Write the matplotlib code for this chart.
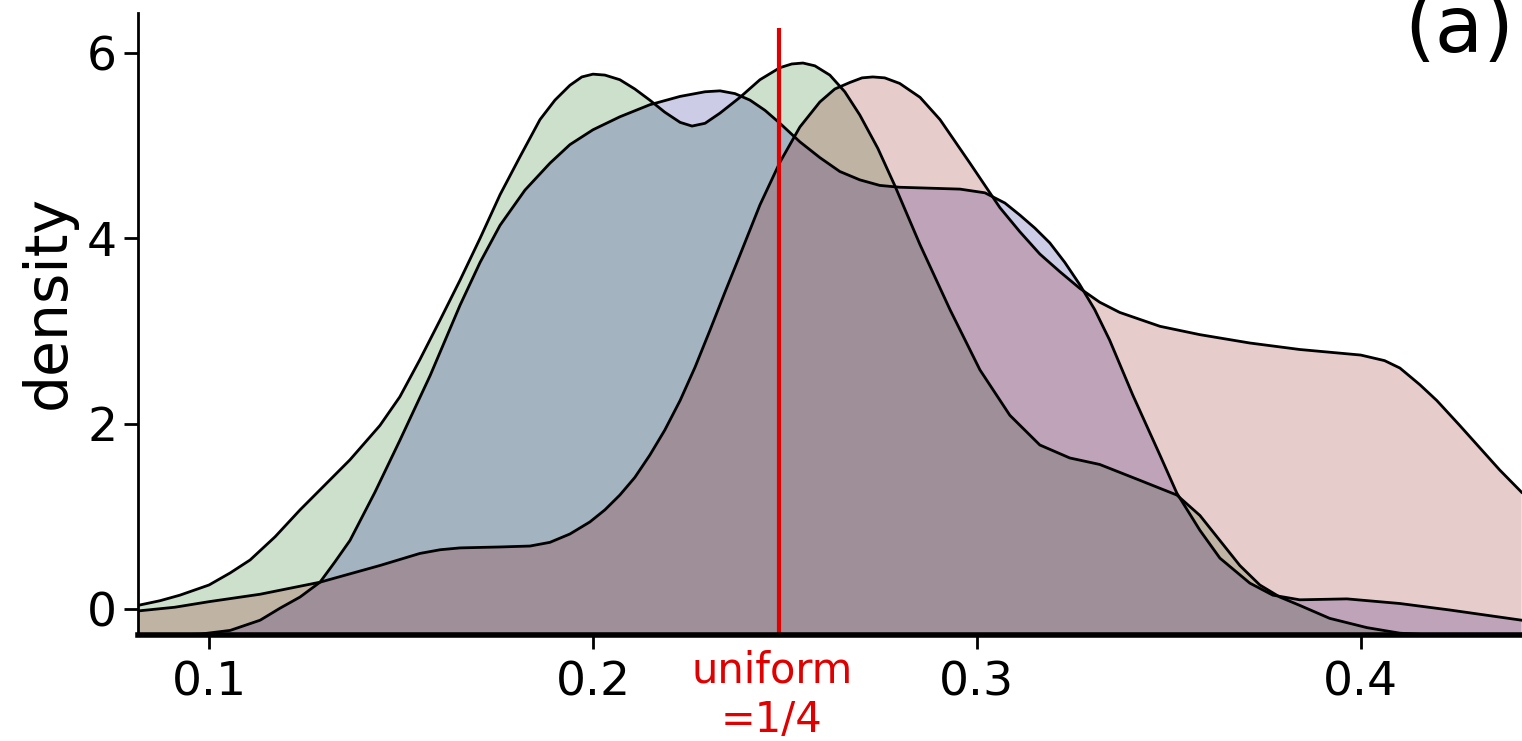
import matplotlib
matplotlib.use("Agg")
import matplotlib.pyplot as plt

# density curves (x = proportion, y = density)
green_x = [0.0815, 0.0872, 0.0924, 0.1, 0.1055, 0.1107, 0.1172, 0.1237, 0.1302, 0.1367,
           0.1445, 0.1497, 0.1549, 0.1602, 0.1654, 0.1706, 0.1758, 0.1810, 0.1862, 0.1901,
           0.1940, 0.1971, 0.2, 0.2031, 0.2070, 0.2109, 0.2148, 0.2187, 0.2227, 0.2258,
           0.2292, 0.2331, 0.2383, 0.2435, 0.2487, 0.2518, 0.2547, 0.2578, 0.2617, 0.2656,
           0.2695, 0.2742, 0.2786, 0.2852, 0.2930, 0.3008, 0.3086, 0.3164, 0.3242, 0.3320,
           0.3424, 0.3521, 0.3581, 0.3633, 0.3685, 0.3737, 0.3789, 0.3841, 0.3919, 0.4016,
           0.4102, 0.4188, 0.4419]
green_y = [0.04, 0.09, 0.15, 0.26, 0.39, 0.53, 0.78, 1.07, 1.34, 1.61,
           1.98, 2.29, 2.69, 3.12, 3.55, 4.00, 4.47, 4.88, 5.28, 5.49,
           5.65, 5.74, 5.77, 5.76, 5.71, 5.61, 5.49, 5.36, 5.25, 5.21,
           5.24, 5.35, 5.52, 5.71, 5.84, 5.88, 5.89, 5.86, 5.76, 5.58,
           5.33, 4.97, 4.57, 3.93, 3.23, 2.58, 2.09, 1.77, 1.63, 1.56,
           1.39, 1.23, 1.01, 0.74, 0.47, 0.26, 0.13, 0.04, -0.10, -0.20,
           -0.26, -0.28, -0.28]

blue_x = [0.0815, 0.0977, 0.1055, 0.1133, 0.1185, 0.1237, 0.1289, 0.1328, 0.1367, 0.1432,
          0.1497, 0.1576, 0.1654, 0.1706, 0.1758, 0.1823, 0.1888, 0.1940, 0.2, 0.2070,
          0.2148, 0.2227, 0.2292, 0.2331, 0.2370, 0.2409, 0.2448, 0.2487, 0.2539, 0.2591,
          0.2643, 0.2695, 0.2747, 0.2799, 0.2878, 0.2956, 0.3021, 0.3073, 0.3112, 0.3151,
          0.3190, 0.3229, 0.3268, 0.3307, 0.3346, 0.3406, 0.3477, 0.3521, 0.3581, 0.3633,
          0.3711, 0.3771, 0.3841, 0.3964, 0.4102, 0.4232, 0.4419]
blue_y = [-0.29, -0.27, -0.23, -0.12, 0.01, 0.13, 0.29, 0.51, 0.74, 1.26,
          1.82, 2.52, 3.28, 3.74, 4.14, 4.52, 4.81, 5.01, 5.17, 5.31,
          5.44, 5.53, 5.58, 5.59, 5.56, 5.49, 5.38, 5.24, 5.04, 4.87,
          4.72, 4.63, 4.57, 4.55, 4.54, 4.53, 4.49, 4.38, 4.25, 4.11,
          3.95, 3.74, 3.50, 3.23, 2.90, 2.31, 1.66, 1.25, 0.85, 0.55,
          0.28, 0.15, 0.10, 0.11, 0.06, -0.01, -0.12]

red_x = [0.0815, 0.0911, 0.1, 0.1133, 0.1289, 0.1367, 0.1445, 0.1549, 0.1602, 0.1654,
         0.1758, 0.1836, 0.1888, 0.1940, 0.1992, 0.2031, 0.2070, 0.2109, 0.2148, 0.2187,
         0.2227, 0.2266, 0.2305, 0.2344, 0.2383, 0.2435, 0.2487, 0.2539, 0.2591, 0.2630,
         0.2669, 0.2701, 0.2729, 0.2760, 0.2799, 0.2852, 0.2904, 0.2982, 0.3060, 0.3112,
         0.3164, 0.3216, 0.3268, 0.3320, 0.3372, 0.3477, 0.3581, 0.3711, 0.3841, 0.4,
         0.4062, 0.4102, 0.4154, 0.4198, 0.4258, 0.4310, 0.4362, 0.4419]
red_y = [-0.02, 0.02, 0.08, 0.16, 0.29, 0.38, 0.47, 0.60, 0.64, 0.66,
         0.67, 0.68, 0.72, 0.81, 0.94, 1.07, 1.23, 1.42, 1.66, 1.93,
         2.25, 2.61, 3.01, 3.42, 3.82, 4.36, 4.82, 5.20, 5.47, 5.61,
         5.68, 5.73, 5.74, 5.73, 5.67, 5.52, 5.28, 4.81, 4.33, 4.07,
         3.83, 3.64, 3.46, 3.31, 3.20, 3.05, 2.96, 2.87, 2.80, 2.74,
         2.68, 2.60, 2.42, 2.25, 1.98, 1.74, 1.50, 1.26]

series = [(green_x, green_y, "darkgreen"),
          (blue_x, blue_y, "darkblue"),
          (red_x, red_y, "darkred")]

xticks = [0.1, 0.2, 0.3, 0.4]
yticks = [0, 2, 4, 6]
uniform_x = 0.2484   # where the "uniform = 1/4" marker sits in the picture

fig = plt.figure(figsize=(15.22, 7.41), dpi=100)
ax = fig.add_axes([0.0907, 0.143, 0.9093, 0.8395])

ymin, ymax = -0.28, 6.43
for x, y, c in series:
    ax.fill_between(x, y, ymin - 1, facecolor=c, alpha=0.2, linewidth=0)
    ax.plot(x, y, color="black", linewidth=2, solid_joinstyle="round")

ax.vlines(uniform_x, ymin, 6.27, color="#e00000", linewidth=3, zorder=5)

ax.set_xlim(0.0815, 0.442)
ax.set_ylim(ymin, ymax)
ax.set_xticks(xticks)
ax.set_xticklabels([str(t) for t in xticks])
ax.set_yticks(yticks)

for s in ["top", "right"]:
    ax.spines[s].set_visible(False)
ax.spines["left"].set_linewidth(2)
ax.spines["bottom"].set_linewidth(4)
ax.spines["left"].set_zorder(10)
ax.spines["bottom"].set_zorder(10)
ax.tick_params(axis="both", direction="out", length=10, width=2, labelsize=34)
ax.tick_params(axis="y", pad=5)
ax.tick_params(axis="x", pad=8)

fig.text(0.032, (741 - 302) / 741, "density", rotation=90, ha="center", va="center",
         fontsize=42)
fig.text(0.995, (741 - 52) / 741, "(a)", ha="right", va="baseline", fontsize=57)
ax.text(0.2466, -0.024, "uniform\n=1/4", transform=ax.get_xaxis_transform(),
        ha="center", va="top", color="#e00000", fontsize=30, linespacing=1.2)

fig.savefig("out.png", dpi=100)
